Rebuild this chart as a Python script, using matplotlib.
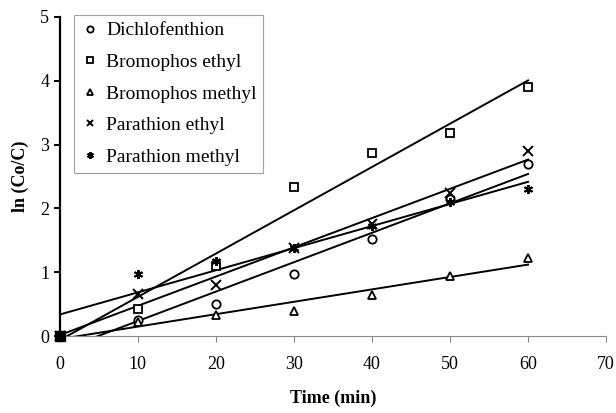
import matplotlib
matplotlib.use('Agg')
import matplotlib.pyplot as plt
import numpy as np

plt.rcParams['font.family'] = ['Liberation Serif', 'DejaVu Serif']

# data
time = [0, 10, 20, 30, 40, 50, 60]
dichlofenthion = [0, 0.26, 0.50, 0.98, 1.52, 2.15, 2.70]
bromophos_ethyl = [0, 0.42, 1.10, 2.33, 2.87, 3.18, 3.90]
bromophos_methyl = [0, 0.22, 0.33, 0.40, 0.65, 0.95, 1.22]
parathion_ethyl = [0, 0.66, 0.80, 1.38, 1.75, 2.25, 2.90]
parathion_methyl = [0, 0.97, 1.18, 1.38, 1.72, 2.10, 2.30]

names = ['Dichlofenthion', 'Bromophos ethyl', 'Bromophos methyl',
         'Parathion ethyl', 'Parathion methyl']
series = [dichlofenthion, bromophos_ethyl, bromophos_methyl,
          parathion_ethyl, parathion_methyl]
markers = ['o', 's', '^', 'x', (6, 2, 0)]

fig = plt.figure(figsize=(6.16, 4.13), dpi=100)
ax = fig.add_axes([0.097, 0.186, 0.887, 0.773])

x = np.array(time)
for name, y, m in zip(names, series, markers):
    y = np.array(y)
    if m in ('x', (6, 2, 0)):
        ax.plot(x, y, linestyle='none', marker=m, markersize=6.5,
                color='black', markeredgewidth=1.4, label=name, clip_on=False)
    else:
        ax.plot(x, y, linestyle='none', marker=m, markersize=6,
                markerfacecolor='white', markeredgecolor='black',
                markeredgewidth=1.3, label=name, clip_on=False)
    # linear trend line
    k, b = np.polyfit(x, y, 1)
    xs = np.array([0, 60])
    ax.plot(xs, k * xs + b, color='black', linewidth=1.4, zorder=1)

ax.plot([0], [0], marker='s', color='black', markersize=7, linestyle='none',
        clip_on=False, zorder=5)

ax.set_xlim(0, 70)
ax.set_ylim(0, 5)
ax.set_xticks(range(0, 71, 10))
ax.set_yticks(range(0, 6))
ax.spines['top'].set_visible(False)
ax.spines['right'].set_visible(False)
ax.spines['left'].set_linewidth(1.6)
ax.spines['bottom'].set_linewidth(0.8)
ax.spines['bottom'].set_color('#888888')
ax.tick_params(axis='both', labelsize=13, direction='out', length=4)
ax.tick_params(axis='x', pad=10, color='#888888')
ax.tick_params(axis='y', width=1.4)

ax.set_xlabel('Time (min)', fontsize=13, fontweight='bold', labelpad=12)
ax.set_ylabel('ln (Co/C)', fontsize=13, fontweight='bold', labelpad=8)

leg = ax.legend(loc='upper left', bbox_to_anchor=(0.026, 1.006), fontsize=14,
                frameon=True, fancybox=False, edgecolor='#888888',
                handletextpad=0.3, handlelength=1.0, labelspacing=0.72,
                borderpad=0.35, markerscale=0.75, borderaxespad=0)
leg.get_frame().set_linewidth(0.8)

plt.savefig('out.png', dpi=100)
